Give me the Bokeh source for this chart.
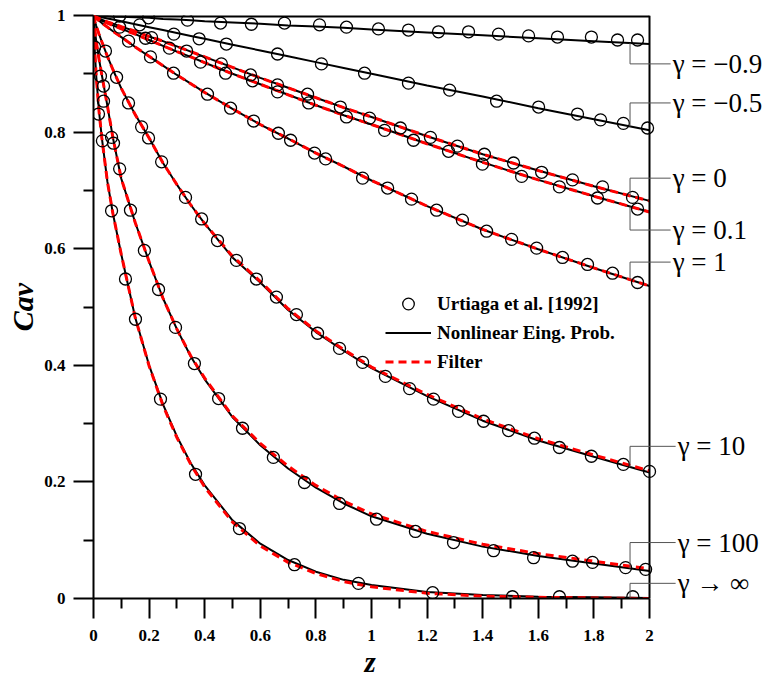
import numpy as np
from bokeh.plotting import figure
from bokeh.models import Range1d, FixedTicker, Legend, LegendItem, Arrow, Span, Title
from bokeh.core.properties import value
from bokeh.embed import file_html
from bokeh.resources import INLINE

# ---------------- data ----------------
z_line = [0.0, 0.005, 0.01, 0.02, 0.03, 0.05, 0.07, 0.1, 0.15, 0.2, 0.25, 0.3, 0.35, 0.4,
          0.5, 0.6, 0.7, 0.8, 0.9, 1.0, 1.2, 1.4, 1.6, 1.8, 2.0]

# Nonlinear eigenvalue problem (black solid)
eig_gm09 = [1.0, 1.0, 1.0, 0.999, 0.999, 0.999, 0.998, 0.998, 0.997, 0.996, 0.994, 0.993, 0.992, 0.990,
            0.988, 0.986, 0.983, 0.981, 0.979, 0.976, 0.971, 0.966, 0.961, 0.956, 0.951]
eig_gm05 = [1.0, 0.9995, 0.999, 0.998, 0.997, 0.995, 0.993, 0.990, 0.985, 0.980, 0.975, 0.970, 0.965, 0.960,
            0.950, 0.940, 0.930, 0.920, 0.910, 0.900, 0.880, 0.861, 0.841, 0.822, 0.803]
eig_g0 = [1.0, 0.998, 0.997, 0.995, 0.993, 0.989, 0.986, 0.981, 0.973, 0.964, 0.956, 0.947, 0.938, 0.929,
          0.911, 0.893, 0.876, 0.859, 0.842, 0.826, 0.793, 0.762, 0.734, 0.707, 0.682]
eig_g01 = [1.0, 0.998, 0.996, 0.993, 0.991, 0.987, 0.983, 0.977, 0.968, 0.958, 0.948, 0.938, 0.929, 0.919,
           0.900, 0.882, 0.864, 0.846, 0.829, 0.813, 0.780, 0.748, 0.718, 0.690, 0.663]
eig_g1 = [1.0, 0.997, 0.995, 0.991, 0.987, 0.980, 0.973, 0.963, 0.946, 0.930, 0.914, 0.898, 0.883, 0.868,
          0.840, 0.813, 0.789, 0.764, 0.741, 0.717, 0.673, 0.633, 0.599, 0.567, 0.536]
eig_g10 = [1.0, 0.990, 0.982, 0.968, 0.955, 0.930, 0.907, 0.875, 0.830, 0.790, 0.747, 0.710, 0.675, 0.643,
           0.585, 0.542, 0.495, 0.457, 0.425, 0.395, 0.347, 0.305, 0.271, 0.243, 0.216]
eig_g100 = [1.0, 0.975, 0.955, 0.925, 0.898, 0.845, 0.790, 0.720, 0.645, 0.578, 0.515, 0.462, 0.415, 0.376,
            0.311, 0.263, 0.223, 0.190, 0.163, 0.141, 0.111, 0.089, 0.073, 0.060, 0.047]
eig_ginf = [1.0, 0.935, 0.895, 0.835, 0.790, 0.715, 0.660, 0.590, 0.482, 0.400, 0.333, 0.278, 0.232, 0.194,
            0.134, 0.094, 0.066, 0.046, 0.032, 0.023, 0.011, 0.006, 0.003, 0.002, 0.001]

# Filter (red dashed)
fil_g0 = [1.0, 0.998, 0.997, 0.995, 0.993, 0.989, 0.986, 0.981, 0.973, 0.964, 0.956, 0.947, 0.938, 0.929,
          0.911, 0.893, 0.876, 0.859, 0.842, 0.826, 0.793, 0.762, 0.734, 0.707, 0.682]
fil_g01 = [1.0, 0.998, 0.996, 0.993, 0.991, 0.987, 0.983, 0.977, 0.968, 0.958, 0.948, 0.938, 0.929, 0.919,
           0.900, 0.882, 0.864, 0.846, 0.829, 0.813, 0.780, 0.748, 0.718, 0.690, 0.663]
fil_g1 = [1.0, 0.997, 0.995, 0.991, 0.987, 0.980, 0.973, 0.963, 0.946, 0.930, 0.914, 0.898, 0.883, 0.868,
          0.840, 0.813, 0.789, 0.764, 0.741, 0.717, 0.673, 0.633, 0.599, 0.567, 0.536]
fil_g10 = [1.0, 0.990, 0.982, 0.968, 0.955, 0.930, 0.907, 0.875, 0.830, 0.790, 0.747, 0.710, 0.675, 0.643,
           0.587, 0.544, 0.497, 0.459, 0.427, 0.397, 0.350, 0.308, 0.274, 0.246, 0.219]
fil_g100 = [1.0, 0.975, 0.955, 0.925, 0.898, 0.845, 0.790, 0.720, 0.645, 0.578, 0.515, 0.462, 0.416, 0.378,
            0.313, 0.266, 0.227, 0.194, 0.167, 0.145, 0.115, 0.093, 0.077, 0.064, 0.051]
fil_ginf = [1.0, 0.935, 0.895, 0.835, 0.790, 0.715, 0.660, 0.590, 0.482, 0.399, 0.331, 0.276, 0.230, 0.191,
            0.131, 0.090, 0.062, 0.043, 0.029, 0.020, 0.009, 0.004, 0.002, 0.001, 0.0]

# Urtiaga et al. [1992] (circles)
exp_z_gm09 = [0.094, 0.198, 0.338, 0.457, 0.568, 0.687, 0.813, 0.91, 1.025, 1.133, 1.241, 1.349, 1.457,
              1.565, 1.669, 1.791, 1.885, 1.957]
exp_c_gm09 = [0.999, 0.996, 0.992, 0.987, 0.985, 0.987, 0.984, 0.980, 0.977, 0.975, 0.972, 0.972, 0.968,
              0.965, 0.963, 0.963, 0.958, 0.958]
exp_z_gm05 = [0.166, 0.289, 0.38, 0.478, 0.662, 0.82, 0.975, 1.133, 1.281, 1.45, 1.601, 1.741, 1.824,
              1.906, 1.993]
exp_c_gm05 = [0.984, 0.968, 0.960, 0.951, 0.934, 0.917, 0.901, 0.884, 0.872, 0.853, 0.843, 0.831, 0.821,
              0.815, 0.807]
exp_z_g0 = [0.094, 0.209, 0.335, 0.46, 0.565, 0.662, 0.77, 0.888, 0.993, 1.104, 1.212, 1.309, 1.406,
            1.511, 1.612, 1.723, 1.831, 1.939]
exp_c_g0 = [0.980, 0.962, 0.939, 0.917, 0.898, 0.881, 0.865, 0.843, 0.824, 0.807, 0.791, 0.776, 0.762,
            0.747, 0.731, 0.718, 0.706, 0.688]
exp_z_g01 = [0.187, 0.273, 0.385, 0.475, 0.572, 0.662, 0.774, 0.91, 1.047, 1.151, 1.277, 1.399, 1.54,
             1.676, 1.813, 1.957]
exp_c_g01 = [0.961, 0.944, 0.920, 0.901, 0.888, 0.869, 0.850, 0.826, 0.803, 0.786, 0.767, 0.745, 0.724,
             0.706, 0.687, 0.668]
exp_z_g1 = [0.126, 0.205, 0.288, 0.41, 0.493, 0.576, 0.665, 0.709, 0.795, 0.835, 0.968, 1.058, 1.144,
            1.234, 1.327, 1.414, 1.504, 1.594, 1.687, 1.777, 1.867, 1.957]
exp_c_g1 = [0.956, 0.929, 0.901, 0.865, 0.841, 0.819, 0.798, 0.786, 0.764, 0.754, 0.721, 0.704, 0.685,
            0.666, 0.649, 0.630, 0.616, 0.601, 0.585, 0.573, 0.558, 0.542]
exp_z_g10 = [0.043, 0.083, 0.126, 0.173, 0.198, 0.245, 0.331, 0.389, 0.446, 0.514, 0.586, 0.658, 0.73,
             0.806, 0.885, 0.968, 1.05, 1.137, 1.223, 1.313, 1.403, 1.493, 1.586, 1.676, 1.791, 1.906, 2.0]
exp_c_g10 = [0.939, 0.894, 0.850, 0.809, 0.790, 0.749, 0.688, 0.651, 0.614, 0.580, 0.548, 0.517, 0.487,
             0.455, 0.429, 0.405, 0.381, 0.360, 0.342, 0.321, 0.304, 0.288, 0.275, 0.259, 0.244, 0.230, 0.218]
exp_z_g100 = [0.025, 0.036, 0.036, 0.065, 0.072, 0.094, 0.133, 0.183, 0.234, 0.295, 0.363, 0.45, 0.536,
              0.647, 0.759, 0.885, 1.018, 1.158, 1.295, 1.439, 1.583, 1.723, 1.795, 1.914, 1.986]
exp_c_g100 = [0.896, 0.879, 0.853, 0.791, 0.781, 0.737, 0.666, 0.597, 0.530, 0.465, 0.403, 0.343, 0.292,
              0.242, 0.199, 0.163, 0.136, 0.115, 0.096, 0.082, 0.070, 0.064, 0.062, 0.053, 0.050]
exp_z_ginf = [0.004, 0.018, 0.032, 0.065, 0.115, 0.151, 0.241, 0.367, 0.525, 0.723, 0.953, 1.22, 1.507,
              1.676, 1.94]
exp_c_ginf = [0.946, 0.831, 0.785, 0.665, 0.548, 0.479, 0.342, 0.213, 0.120, 0.058, 0.026, 0.010, 0.003,
              0.003, 0.003]

curve_labels = ["γ = −0.9", "γ = −0.5", "γ = 0", "γ = 0.1", "γ = 1", "γ = 10", "γ = 100", "γ → ∞"]

x_ticks = [0, 0.2, 0.4, 0.6, 0.8, 1, 1.2, 1.4, 1.6, 1.8, 2]
x_tick_labels = ["0", "0.2", "0.4", "0.6", "0.8", "1", "1.2", "1.4", "1.6", "1.8", "2"]
x_minor = [0.1, 0.3, 0.5, 0.7, 0.9, 1.1, 1.3, 1.5, 1.7, 1.9]
y_ticks = [0, 0.2, 0.4, 0.6, 0.8, 1]
y_tick_labels = ["0", "0.2", "0.4", "0.6", "0.8", "1"]
y_minor = [0.1, 0.3, 0.5, 0.7, 0.9]

# ---------------- layout ----------------
SERIF = "Liberation Serif"
W, H = 765, 682
LEFT, TOP, BOTTOM = 93, 15, 84
Z_MAX = 2.0                      # data extent of the axes box
PX_PER_Z = 278.0                 # horizontal scale of the reference
x_view_end = (W - LEFT) / PX_PER_Z   # extra room on the right for the curve labels

p = figure(width=W, height=H, x_range=Range1d(0, x_view_end), y_range=Range1d(0, 1),
           output_backend="svg", toolbar_location=None,
           min_border_left=LEFT, min_border_right=0, min_border_top=TOP, min_border_bottom=BOTTOM)
p.grid.visible = False
p.outline_line_color = None
p.background_fill_color = "white"

for ax, ticks, labels, minor in ((p.xaxis[0], x_ticks, x_tick_labels, x_minor),
                                 (p.yaxis[0], y_ticks, y_tick_labels, y_minor)):
    ax.ticker = FixedTicker(ticks=ticks, minor_ticks=minor)
    ax.major_label_overrides = {t: l for t, l in zip(ticks, labels)}
    ax.bounds = (ticks[0], ticks[-1])
    ax.axis_line_width = 2
    ax.major_tick_line_width = 2
    ax.minor_tick_line_width = 2
    ax.major_tick_out = 20
    ax.major_tick_in = 0
    ax.minor_tick_out = 10
    ax.minor_tick_in = 0
    ax.major_label_text_font = SERIF
    ax.major_label_text_font_style = "bold"
    ax.major_label_text_font_size = "17px"
    ax.major_label_text_color = "black"
p.xaxis.major_label_standoff = 11
p.yaxis.major_label_standoff = 8
p.yaxis.axis_label = "Cav"
p.yaxis.axis_label_text_font = SERIF
p.yaxis.axis_label_text_font_style = "bold italic"
p.yaxis.axis_label_text_color = "black"
p.yaxis.axis_label_text_font_size = "30px"
p.yaxis.axis_label_standoff = 2

# x-axis title, centred under z = 1 (the axes box is narrower than the frame)
z_mid = (x_ticks[0] + x_ticks[-1]) / 2
p.add_layout(Title(text="z", align="left", offset=z_mid * PX_PER_Z - 7, standoff=0,
                   text_font=SERIF, text_font_style="bold italic", text_font_size="29px",
                   text_color="black"), "below")

# box: right border at z = 2 and top border at C = 1
p.add_layout(Span(location=Z_MAX, dimension="height", line_color="black", line_width=2))
p.segment(x0=[0], y0=[1], x1=[Z_MAX], y1=[1], line_color="black", line_width=4)

eig_all = [eig_gm09, eig_gm05, eig_g0, eig_g01, eig_g1, eig_g10, eig_g100, eig_ginf]
fil_all = [fil_g0, fil_g01, fil_g1, fil_g10, fil_g100, fil_ginf]
exp_all = [(exp_z_gm09, exp_c_gm09), (exp_z_gm05, exp_c_gm05), (exp_z_g0, exp_c_g0), (exp_z_g01, exp_c_g01),
           (exp_z_g1, exp_c_g1), (exp_z_g10, exp_c_g10), (exp_z_g100, exp_c_g100), (exp_z_ginf, exp_c_ginf)]

r_eig = None
for c in eig_all:
    r = p.line(z_line, c, line_color="black", line_width=2)
    r_eig = r_eig or r
r_fil = None
for c in fil_all:
    r = p.line(z_line, c, line_color="#ff0000", line_width=3, line_dash="8 5")
    r_fil = r_fil or r
r_exp = None
for zz, cc in exp_all:
    r = p.scatter(zz, cc, marker="circle", size=12, fill_color=None, line_color="black", line_width=1.3)
    r_exp = r_exp or r

legend = Legend(items=[LegendItem(label="Urtiaga et al. [1992]", renderers=[r_exp]),
                       LegendItem(label="Nonlinear Eing. Prob.", renderers=[r_eig]),
                       LegendItem(label="Filter", renderers=[r_fil])],
                location=(292, 222), glyph_width=46, glyph_height=29, label_height=29,
                spacing=0, padding=0, margin=0, label_standoff=6,
                border_line_alpha=0, background_fill_alpha=0,
                label_text_font=SERIF, label_text_font_style="bold", label_text_font_size="19px",
                label_text_color="black")
p.add_layout(legend)

# curve annotations with leader lines (layout positions)
anchor_z = 1.93
label_c = [0.917, 0.850, 0.721, 0.632, 0.577, 0.261, 0.096, 0.026]
label_end = [2.076, 2.076, 2.076, 2.076, 2.076, 2.094, 2.094, 2.094]
for c, yl, xe in zip(eig_all, label_c, label_end):
    yc = float(np.interp(anchor_z, z_line, c))
    p.add_layout(Arrow(end=None, x_start=anchor_z, y_start=yc, x_end=anchor_z, y_end=yl,
                       line_color="#555555", line_width=1))
    p.add_layout(Arrow(end=None, x_start=anchor_z, y_start=yl, x_end=xe, y_end=yl,
                       line_color="#555555", line_width=1))
p.text(x=label_end, y=label_c, text=curve_labels, x_offset=2,
       text_font=value(SERIF), text_font_size="27px", text_baseline="middle", text_align="left",
       text_color="black")

open("out.html", "w").write(file_html(p, INLINE))
